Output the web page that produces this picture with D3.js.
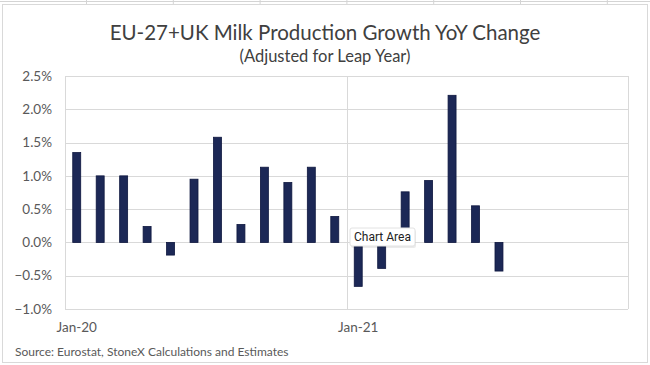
<!DOCTYPE html>
<html>
<head>
<meta charset="utf-8">
<script src="https://cdn.jsdelivr.net/npm/d3@7"></script>
<style>
  body { margin: 0; background: #fff; }
  svg { display: block; font-family: Lato, "Open Sans", sans-serif; }
</style>
</head>
<body>
<div id="chart"></div>
<script>
// Monthly categories on the axis (Jan-20 .. Dec-21)
const months = ["Jan-20","Feb-20","Mar-20","Apr-20","May-20","Jun-20","Jul-20","Aug-20","Sep-20","Oct-20","Nov-20","Dec-20",
                "Jan-21","Feb-21","Mar-21","Apr-21","May-21","Jun-21","Jul-21","Aug-21","Sep-21","Oct-21","Nov-21","Dec-21"];
// YoY growth, percent (data ends Jul-21)
const growth = [1.35, 1.00, 1.00, 0.24, -0.19, 0.95, 1.58, 0.27, 1.13, 0.90, 1.13, 0.39,
                -0.66, -0.39, 0.76, 0.93, 2.21, 0.55, -0.43];
const yTicks = [-1.0, -0.5, 0, 0.5, 1.0, 1.5, 2.0, 2.5];
const xTickLabels = ["Jan-20", "Jan-21"];
const yearStarts = ["Jan-20", "Jan-21"];

const W = 650, H = 365;
const plot = { left: 65, right: 628, top: 76, bottom: 309 };

const svg = d3.select("#chart").append("svg")
    .attr("width", W)
    .attr("height", H);

// spreadsheet cell lines peeking around the chart
const cells = svg.append("g").attr("stroke", "#d4d4d4").attr("stroke-width", 1);
cells.append("line").attr("x1", 0).attr("x2", W).attr("y1", 1.5).attr("y2", 1.5);
d3.range(86.5, W, 86.8).forEach(x => {
    cells.append("line").attr("x1", x).attr("x2", x).attr("y1", 0).attr("y2", 4);
});

// chart frame
svg.append("rect")
    .attr("x", 2.5).attr("y", 4.5)
    .attr("width", 645).attr("height", 358)
    .attr("fill", "#fff")
    .attr("stroke", "#d9d9d9");

const x = d3.scaleBand()
    .domain(months)
    .range([plot.left, plot.right])
    .paddingInner(0.66)
    .paddingOuter(0.33);

const y = d3.scaleLinear()
    .domain([-1.0, 2.5])
    .range([plot.bottom, plot.top]);

// horizontal gridlines
svg.append("g")
    .selectAll("line")
    .data(yTicks)
    .join("line")
    .attr("x1", plot.left).attr("x2", plot.right)
    .attr("y1", d => Math.round(y(d)) + 0.5)
    .attr("y2", d => Math.round(y(d)) + 0.5)
    .attr("stroke", "#d9d9d9");

// vertical gridlines at each year start plus the right edge
const step = x.step();
const vx = yearStarts.map(m => x(m) - x.paddingInner() * step / 2).concat([plot.right]);
svg.append("g")
    .selectAll("line")
    .data(vx)
    .join("line")
    .attr("x1", d => Math.round(d) + 0.5).attr("x2", d => Math.round(d) + 0.5)
    .attr("y1", plot.top).attr("y2", plot.bottom)
    .attr("stroke", "#d9d9d9");

// bars
svg.append("g")
    .selectAll("rect")
    .data(growth)
    .join("rect")
    .attr("x", (d, i) => x(months[i]))
    .attr("width", x.bandwidth())
    .attr("y", d => y(Math.max(0, d)))
    .attr("height", d => Math.abs(y(d) - y(0)))
    .attr("fill", "#1c2856")
    .attr("stroke", "#0e173f")
    .attr("stroke-width", 0.8);

// y axis labels
svg.append("g")
    .selectAll("text")
    .data(yTicks)
    .join("text")
    .attr("x", 52)
    .attr("y", d => y(d))
    .attr("dy", "0.35em")
    .attr("text-anchor", "end")
    .attr("font-size", 13.5)
    .attr("fill", "#595959")
    .text(d => d3.format(".1%")(d / 100));

// x axis labels
svg.append("g")
    .selectAll("text")
    .data(xTickLabels)
    .join("text")
    .attr("x", d => x(d) + x.bandwidth() / 2)
    .attr("y", 332)
    .attr("text-anchor", "middle")
    .attr("font-size", 13.5)
    .attr("fill", "#595959")
    .text(d => d);

// titles
svg.append("text")
    .attr("x", 325).attr("y", 40)
    .attr("text-anchor", "middle")
    .attr("font-size", 20.5)
    .attr("fill", "#404040")
    .text("EU-27+UK Milk Production Growth YoY Change");

svg.append("text")
    .attr("x", 325).attr("y", 62)
    .attr("text-anchor", "middle")
    .attr("font-size", 16.5)
    .attr("fill", "#404040")
    .text("(Adjusted for Leap Year)");

svg.append("text")
    .attr("x", 15).attr("y", 356)
    .attr("font-size", 12)
    .attr("fill", "#595959")
    .text("Source: Eurostat, StoneX Calculations and Estimates");

// "Chart Area" hover tip from the screenshot
const tip = svg.append("g").attr("transform", "translate(350,228)");
tip.append("rect")
    .attr("x", 1).attr("y", 2)
    .attr("width", 65).attr("height", 18)
    .attr("rx", 2)
    .attr("fill", "#000").attr("opacity", 0.08);
tip.append("rect")
    .attr("width", 65).attr("height", 18)
    .attr("rx", 2)
    .attr("fill", "#fff")
    .attr("stroke", "#e2e2e2");
tip.append("text")
    .attr("x", 32.5).attr("y", 13)
    .attr("text-anchor", "middle")
    .attr("font-family", "Roboto, sans-serif")
    .attr("font-size", 12)
    .attr("fill", "#222")
    .text("Chart Area");
</script>
</body>
</html>
